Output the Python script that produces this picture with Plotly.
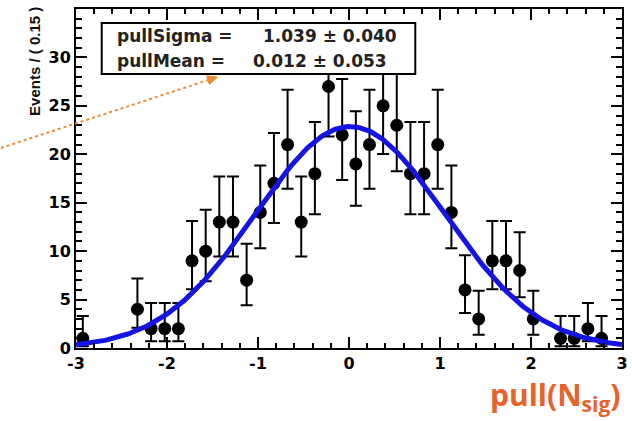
import math
import plotly.graph_objects as go

# Pull distribution of the fitted signal yield (bin width 0.15), empty bins omitted
bin_centers = [-2.925, -2.325, -2.175, -2.025, -1.875, -1.725, -1.575, -1.425, -1.275,
               -1.125, -0.975, -0.825, -0.675, -0.525, -0.375, -0.225, -0.075, 0.075,
               0.225, 0.375, 0.525, 0.675, 0.825, 0.975, 1.125, 1.275, 1.425, 1.575,
               1.725, 1.875, 2.025, 2.325, 2.475, 2.625, 2.775]
counts = [1, 4, 2, 2, 2, 9, 10, 13, 13, 7, 14, 17, 21, 13, 18, 27, 22, 19, 21, 25,
          23, 18, 18, 21, 14, 6, 3, 9, 9, 8, 3, 1, 1, 2, 1]
bin_width = 0.15

# Fit results shown in the stats box
pull_sigma, pull_sigma_err = 1.039, 0.040
pull_mean, pull_mean_err = 0.012, 0.053

x_ticks = [-3, -2, -1, 0, 1, 2, 3]
x_ticktext = ["-3", "-2", "-1", "0", "1", "2", "3"]
y_ticks = [0, 5, 10, 15, 20, 25, 30]
y_ticktext = ["0", "5", "10", "15", "20", "25", "30"]


# Central Poisson (Garwood) 1-sigma intervals, as used for binned event counts
ALPHA = 0.5 * (1.0 - math.erf(1.0 / math.sqrt(2.0)))


def pois_cdf(k, mu):
    term = math.exp(-mu)
    s = term
    for i in range(1, k + 1):
        term *= mu / i
        s += term
    return s


def bisect(f, lo, hi, increasing):
    for _ in range(80):
        mid = 0.5 * (lo + hi)
        v = f(mid)
        if (v < 0) == increasing:
            lo = mid
        else:
            hi = mid
    return 0.5 * (lo + hi)


def poisson_interval(n):
    if n == 0:
        lo = 0.0
    else:
        lo = bisect(lambda m: (1 - pois_cdf(n - 1, m)) - ALPHA, 0.0, n, True)
    hi = bisect(lambda m: pois_cdf(n, m) - ALPHA, n, n + 10 * math.sqrt(n) + 10, False)
    return lo, hi


err_lo, err_hi = [], []
for n in counts:
    lo, hi = poisson_interval(n)
    err_lo.append(n - lo)
    err_hi.append(hi - n)

# Gaussian fit curve normalised to the histogram
n_total = sum(counts)
xs = [-3 + 6 * i / 400 for i in range(401)]
ys = [n_total * bin_width / (pull_sigma * math.sqrt(2 * math.pi))
      * math.exp(-0.5 * ((x - pull_mean) / pull_sigma) ** 2) for x in xs]

fig = go.Figure()
fig.add_trace(go.Scatter(
    x=bin_centers, y=counts, mode="markers",
    marker=dict(color="black", size=13, symbol="circle"),
    error_y=dict(type="data", symmetric=False, array=err_hi, arrayminus=err_lo,
                 color="black", thickness=2, width=6),
    hoverinfo="skip",
))
fig.add_trace(go.Scatter(
    x=xs, y=ys, mode="lines",
    line=dict(color="#1414e6", width=5),
    hoverinfo="skip",
))

# Plot-area geometry in pixels
L, R, T, B = 76, 628, 9, 348
W, H = 632, 421


def fx(px):
    return (px - L) / (R - L)


def fy(py):
    return (B - py) / (B - T)


tick_font = dict(family="DejaVu Sans", size=16, color="black", weight="bold")
axis_common = dict(
    showgrid=False, zeroline=False, showline=True, linecolor="black", linewidth=2,
    mirror="allticks", ticks="inside", ticklen=11, tickwidth=2, tickcolor="black",
    tickfont=tick_font,
)

fig.update_layout(
    width=W, height=H,
    margin=dict(l=L, r=W - R, t=T, b=H - B),
    paper_bgcolor="white", plot_bgcolor="white",
    showlegend=False,
    xaxis=dict(range=[-3, 3], tickvals=x_ticks, ticktext=x_ticktext,
               minor=dict(dtick=0.2, ticklen=5, tickwidth=1.5, tickcolor="black",
                          ticks="inside"),
               **axis_common),
    yaxis=dict(range=[0, 35], tickvals=y_ticks, ticktext=y_ticktext,
               minor=dict(dtick=1, ticklen=6, tickwidth=1.5, tickcolor="black",
                          ticks="inside"),
               **axis_common),
)

# Stats box (opaque, drawn over the data)
fig.add_shape(type="rect", xref="paper", yref="paper",
              x0=fx(102), x1=fx(419), y0=fy(74), y1=fy(23),
              line=dict(color="black", width=2), fillcolor="white", layer="above")

box_font = dict(family="DejaVu Sans", size=17, color="#222222", weight="bold")
stats_lines = [
    ("pullSigma =", f"{pull_sigma:.3f} \u00b1 {pull_sigma_err:.3f}", 36, 263),
    ("pullMean =", f"{pull_mean:.3f} \u00b1 {pull_mean_err:.3f}", 61, 253),
]
for label, value, py, vx in stats_lines:
    fig.add_annotation(xref="paper", yref="paper", x=fx(115), y=fy(py), text=label,
                       showarrow=False, xanchor="left", yanchor="middle", font=box_font)
    fig.add_annotation(xref="paper", yref="paper", x=fx(vx), y=fy(py), text=value,
                       showarrow=False, xanchor="left", yanchor="middle", font=box_font)

# Y-axis title, top aligned
fig.add_annotation(xref="paper", yref="paper", x=fx(34), y=fy(5),
                   text="Events / ( 0.15 )", textangle=-90, showarrow=False,
                   xanchor="center", yanchor="top",
                   font=dict(family="Liberation Sans", size=15, color="#111111",
                             weight="bold"))

# X-axis title
fig.add_annotation(xref="paper", yref="paper", x=fx(628), y=fy(396),
                   text="pull(N<sub>sig</sub>)", showarrow=False,
                   xanchor="right", yanchor="middle",
                   font=dict(family="Open Sans", size=30, color="#e8622c",
                             weight="bold"))

# Dotted orange pointer towards the stats box, with a filled triangular head
arrow_color = "#ee8c33"
x_start, y_start, x_tip, y_tip = 0, 148, 219, 77
head_len, head_half = 10, 4.5
dx, dy = x_tip - x_start, y_tip - y_start
norm = math.hypot(dx, dy)
ux, uy = dx / norm, dy / norm
bx, by = x_tip - head_len * ux, y_tip - head_len * uy
c1 = (bx - head_half * uy, by + head_half * ux)
c2 = (bx + head_half * uy, by - head_half * ux)

fig.add_shape(type="line", xref="paper", yref="paper",
              x0=fx(x_start), y0=fy(y_start), x1=fx(bx), y1=fy(by),
              line=dict(color=arrow_color, width=2, dash="dot"), layer="above")
fig.add_shape(type="path", xref="paper", yref="paper",
              path=(f"M {fx(x_tip)},{fy(y_tip)} L {fx(c1[0])},{fy(c1[1])} "
                    f"L {fx(c2[0])},{fy(c2[1])} Z"),
              line=dict(color=arrow_color, width=1), fillcolor=arrow_color,
              layer="above")

fig.write_html("out.html")
